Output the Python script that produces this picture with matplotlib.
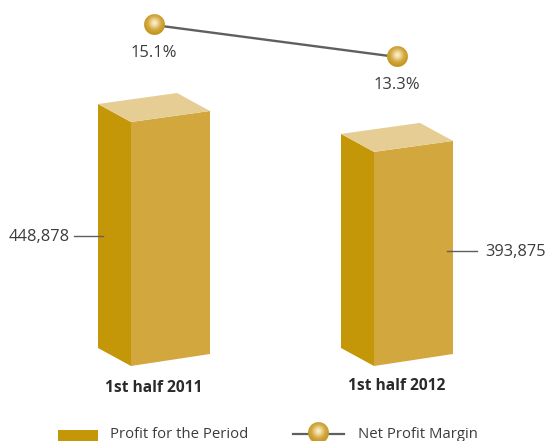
import numpy as np
import matplotlib
matplotlib.use("Agg")
import matplotlib.pyplot as plt
from matplotlib.patches import Polygon, Rectangle
from matplotlib.lines import Line2D
from matplotlib.offsetbox import OffsetImage, AnnotationBbox

W, H = 545, 441

periods = ["1st half 2011", "1st half 2012"]
profit = [448878, 393875]
margin = [15.1, 13.3]

LEFT_COL = "#c49708"
FRONT_COL = "#d1a73e"
TOP_COL = "#e6cd94"
LINE_COL = "#5f5f5f"
TEXT_COL = "#3c3c3c"

plt.rcParams["font.family"] = ["Open Sans", "DejaVu Sans"]

# scale of both axes in pixels
PX_PER_CAT = 243.0
PX_PER_VAL = 244.0 / 448878
PX_PER_PCT = 32.0 / 1.8


def px(x, y):
    # figure fraction from pixel position, origin top left
    return x / W, 1 - y / H


def make_sphere(n=21, ss=8):
    # rendered large then averaged down so the rim stays smooth
    m = n * ss
    yy, xx = np.mgrid[-1:1:m * 1j, -1:1:m * 1j]
    r = np.sqrt(xx ** 2 + yy ** 2)
    d = np.clip(np.sqrt(xx ** 2 + (yy + 0.15) ** 2) / 1.1, 0, 1)
    stops = [0, 0.22, 0.6, 1]
    cols = np.array([[0.99, 0.96, 0.86], [0.95, 0.87, 0.65], [0.83, 0.66, 0.26], [0.76, 0.58, 0.10]])
    img = np.zeros((m, m, 4))
    for i in range(3):
        img[..., i] = np.interp(d, stops, cols[:, i])
    img[..., 3] = (r <= 1).astype(float)
    rgb = img[..., :3] * img[..., 3:]
    small = np.zeros((n, n, 4))
    for i in range(n):
        for j in range(n):
            a = img[i * ss:(i + 1) * ss, j * ss:(j + 1) * ss, 3].mean()
            small[i, j, 3] = a
            if a > 0:
                small[i, j, :3] = rgb[i * ss:(i + 1) * ss, j * ss:(j + 1) * ss].mean(axis=(0, 1)) / a
    return small


def add_sphere(axis, x, y, coords="data"):
    box = AnnotationBbox(OffsetImage(make_sphere(), zoom=72 / fig.dpi), (x, y), xycoords=coords,
                         frameon=False, pad=0, zorder=6)
    axis.add_artist(box)


def draw_bar(axis, c, value):
    dx = 23.0 / PX_PER_CAT
    bx = 33.0 / PX_PER_CAT
    w = 79.0 / PX_PER_CAT
    sy = 18.0 / PX_PER_VAL
    ty = 12.0 / PX_PER_VAL
    ry = 11.0 / PX_PER_VAL
    x0 = c - dx
    # left side, front and lid of the box
    axis.add_patch(Polygon([(x0 - bx, sy), (x0, 0), (x0, value), (x0 - bx, value + sy)],
                           fc=LEFT_COL, ec="none"))
    axis.add_patch(Polygon([(x0, 0), (x0 + w, ty), (x0 + w, value + ry), (x0, value)],
                           fc=FRONT_COL, ec="none"))
    axis.add_patch(Polygon([(x0, value), (x0 + w, value + ry),
                            (x0 + w - bx, value + ry + sy), (x0 - bx, value + sy)],
                           fc=TOP_COL, ec="none"))


fig = plt.figure(figsize=(W / 100, H / 100), dpi=100)
ax = fig.add_axes([0, 0, 1, 1])
ax.set_xlim(-154 / PX_PER_CAT, (W - 154) / PX_PER_CAT)
ax.set_ylim(-(H - 366) / PX_PER_VAL, 366 / PX_PER_VAL)
ax.axis("off")

ax2 = ax.twinx()
ax2.set_ylim(15.1 - (H - 25) / PX_PER_PCT, 15.1 + 25 / PX_PER_PCT)
ax2.axis("off")

xs = np.arange(len(periods))
for c, v in zip(xs, profit):
    draw_bar(ax, c, v)

# leader lines and value labels for the bars
fig.add_artist(Line2D([74 / W, 103 / W], [1 - 236 / H] * 2, color=LINE_COL, lw=1.0))
fig.add_artist(Line2D([447 / W, 477 / W], [1 - 251 / H] * 2, color=LINE_COL, lw=1.0))
fig.text(*px(9, 237), f"{profit[0]:,}", fontsize=11.8, color=TEXT_COL, ha="left", va="center")
fig.text(*px(485, 252), f"{profit[1]:,}", fontsize=11.8, color=TEXT_COL, ha="left", va="center")

# margin line
ax2.plot(xs, margin, color=LINE_COL, lw=1.7, zorder=5)
for c, m in zip(xs, margin):
    add_sphere(ax2, c, m)
    ax2.annotate(f"{m}%", (c, m), xytext=(0, -28), textcoords="offset pixels", fontsize=12,
                 color=TEXT_COL, ha="center", va="center")

# category labels sit under each bar, the first a little lower
label_y = [1 - 388 / H, 1 - 386 / H]
for c, name, y in zip(xs, periods, label_y):
    ax.text(c, y, name, transform=ax.get_xaxis_transform(), fontsize=11.2, fontweight="bold",
            color="#2a2a2a", ha="center", va="center")

# legend
fig.add_artist(Rectangle(px(58, 441), 40 / W, 11 / H, transform=fig.transFigure,
                         fc=LEFT_COL, ec="none"))
fig.text(*px(110, 434.5), "Profit for the Period", fontsize=10.7, color=TEXT_COL, ha="left", va="center")
fig.add_artist(Line2D([293 / W, 344 / W], [1 - 434 / H] * 2, color=LINE_COL, lw=1.6))
add_sphere(fig, *px(318.5, 433), coords="figure fraction")
fig.text(*px(358, 434.5), "Net Profit Margin", fontsize=10.7, color=TEXT_COL, ha="left", va="center")

fig.savefig("out.png", dpi=100)
